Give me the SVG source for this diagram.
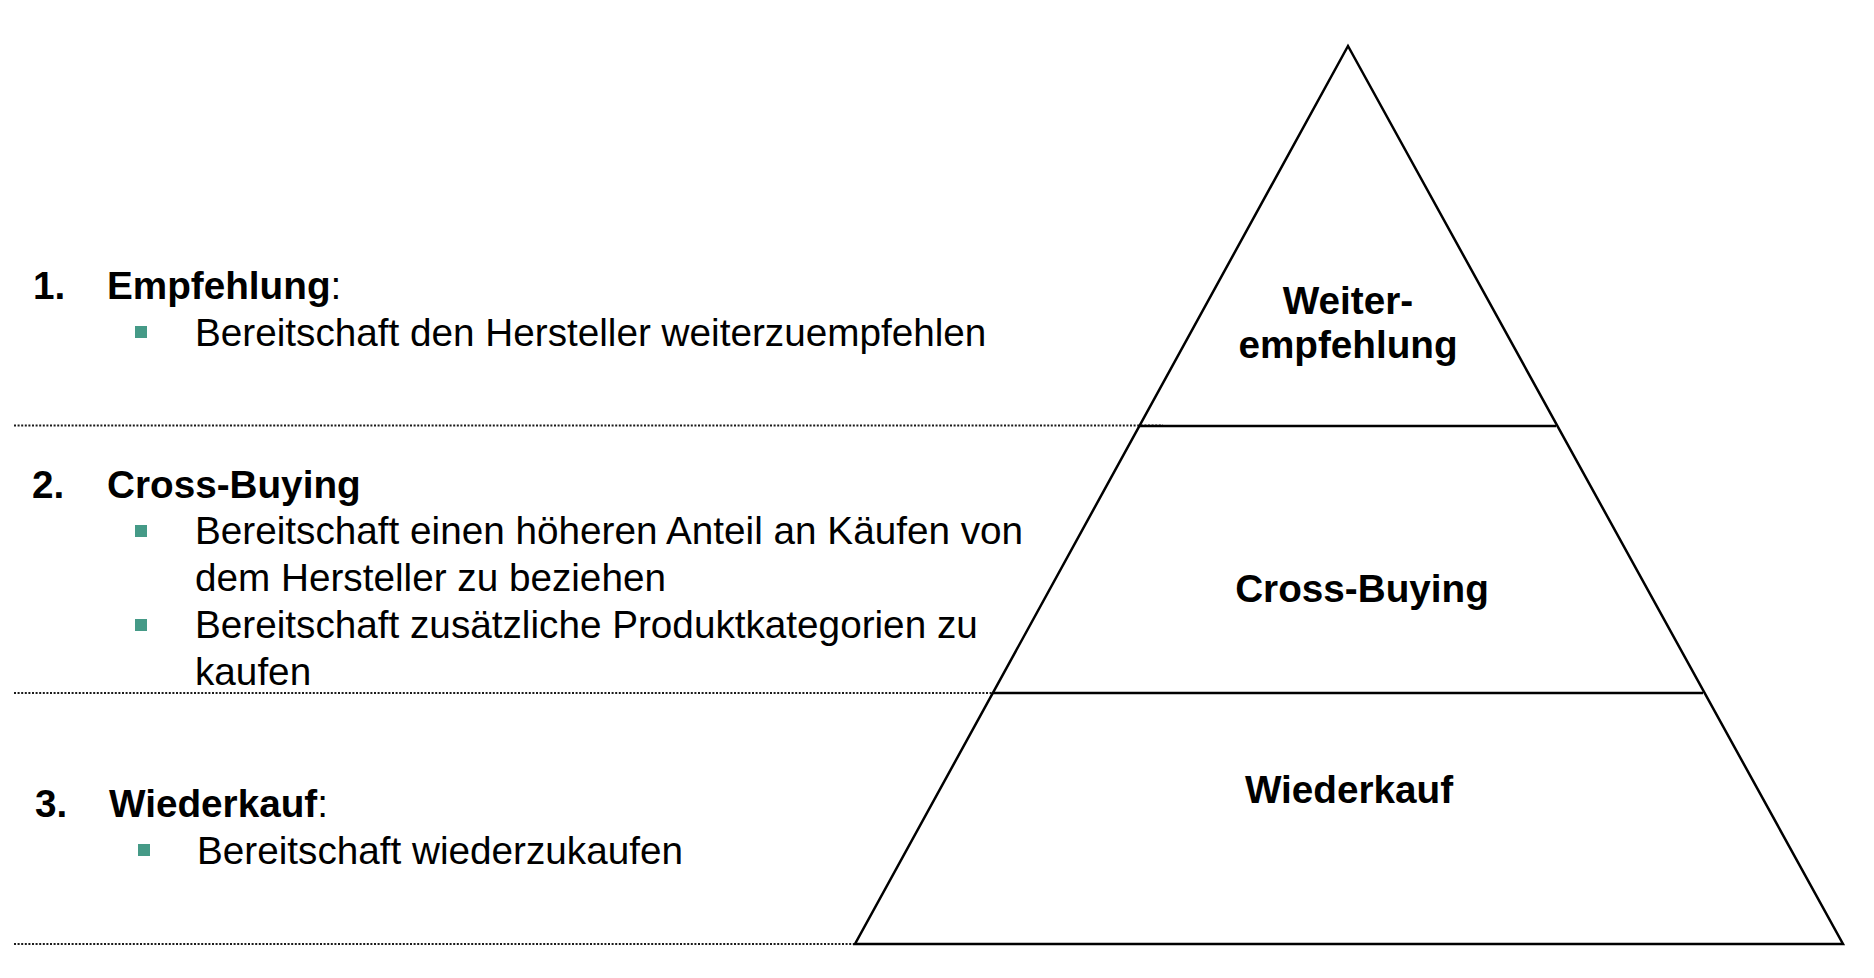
<svg xmlns="http://www.w3.org/2000/svg" width="1874" height="978" viewBox="0 0 1874 978">
<style>
text { font-family: "Liberation Sans", Arial, Helvetica, sans-serif; font-size: 38.7px; fill: #000; }
.b { font-weight: bold; }
.lbl { font-weight: bold; text-anchor: middle; }
.bul { fill: #459a87; }
.sep { stroke: #1a1a1a; stroke-width: 2; stroke-dasharray: 2 1.6; fill: none; }
.edge { stroke: #000; stroke-width: 2.5; fill: none; stroke-linejoin: miter; }
</style>
<rect width="1874" height="978" fill="#fff"/>
<g id="separators">
  <line class="sep" x1="14" y1="425.5" x2="1163" y2="425.5"/>
  <line class="sep" x1="14" y1="693" x2="1030" y2="693"/>
  <line class="sep" x1="14" y1="944" x2="890" y2="944"/>
</g>
<g id="pyramid">
  <polygon class="edge" points="1348,46 1843,944 855,944"/>
  <line class="edge" x1="1140" y1="426" x2="1556" y2="426"/>
  <line class="edge" x1="993" y1="693" x2="1703" y2="693"/>
</g>
<g id="tier-weiterempfehlung">
  <text class="lbl" x="1348" y="314">Weiter-</text>
  <text class="lbl" x="1348" y="358">empfehlung</text>
</g>
<g id="tier-crossbuying">
  <text class="lbl" x="1362" y="602">Cross-Buying</text>
</g>
<g id="tier-wiederkauf">
  <text class="lbl" x="1349" y="803">Wiederkauf</text>
</g>
<g id="section-1">
  <text class="b" x="33" y="299">1.</text>
  <text x="107" y="299"><tspan class="b">Empfehlung</tspan>:</text>
  <rect class="bul" x="135" y="326" width="12" height="12"/>
  <text x="195" y="346">Bereitschaft den Hersteller weiterzuempfehlen</text>
</g>
<g id="section-2">
  <text class="b" x="32" y="498">2.</text>
  <text class="b" x="107" y="498">Cross-Buying</text>
  <rect class="bul" x="135" y="525" width="12" height="12"/>
  <text x="195" y="544">Bereitschaft einen höheren Anteil an Käufen von</text>
  <text x="195" y="591">dem Hersteller zu beziehen</text>
  <rect class="bul" x="135" y="619" width="12" height="12"/>
  <text x="195" y="638">Bereitschaft zusätzliche Produktkategorien zu</text>
  <text x="195" y="685">kaufen</text>
</g>
<g id="section-3">
  <text class="b" x="35" y="817">3.</text>
  <text x="109" y="817"><tspan class="b">Wiederkauf</tspan>:</text>
  <rect class="bul" x="138" y="844" width="12" height="12"/>
  <text x="197" y="864">Bereitschaft wiederzukaufen</text>
</g>
</svg>
